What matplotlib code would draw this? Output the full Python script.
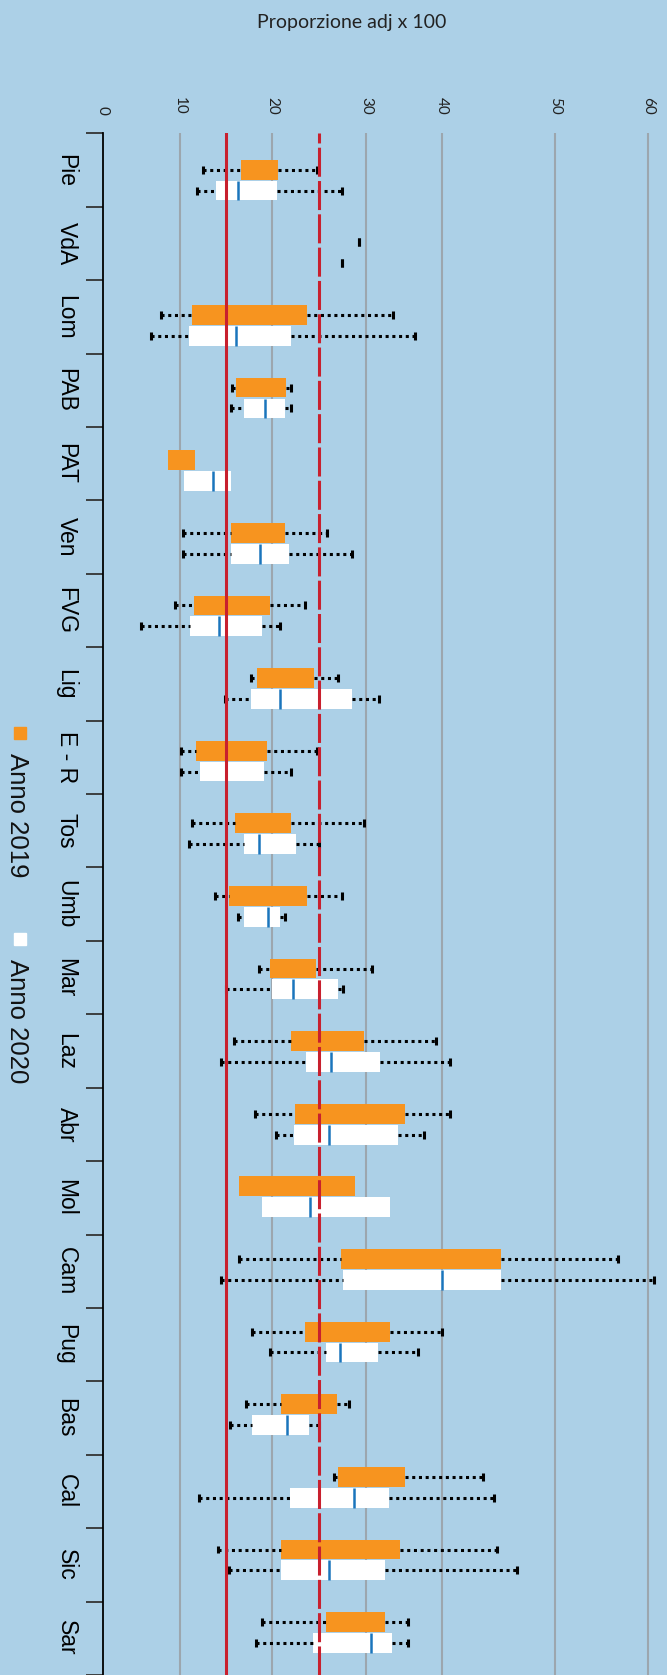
import matplotlib
matplotlib.use("Agg")
import matplotlib.pyplot as plt
from matplotlib.lines import Line2D
import numpy as np

nan = np.nan

# Regions (top to bottom)
regions = ["Pie", "VdA", "Lom", "PAB", "PAT", "Ven", "FVG", "Lig", "E - R", "Tos", "Umb",
           "Mar", "Laz", "Abr", "Mol", "Cam", "Pug", "Bas", "Cal", "Sic", "Sar"]

# Anno 2019: whisker low, q1, q3, whisker high (no median drawn)
lo_2019 = [12.5, 29.3, 7.5, 15.7, nan, 10.3, 9.4, 17.7, 10.1, 11.3, 13.8,
           18.6, 15.9, 18.1, nan, 16.4, 17.8, 17.2, 26.6, 14.1, 18.9]
q1_2019 = [16.6, 29.3, 11.3, 16.1, 8.45, 15.5, 11.5, 18.4, 11.7, 16.0, 15.3,
           19.8, 22.0, 22.4, 16.4, 27.3, 23.5, 20.9, 27.0, 21.0, 25.7]
q3_2019 = [20.6, 29.3, 23.7, 21.5, 11.6, 21.4, 19.8, 24.5, 19.5, 22.0, 23.7,
           24.7, 29.8, 35.1, 28.8, 45.2, 33.2, 26.9, 35.1, 34.5, 32.5]
hi_2019 = [24.8, 29.3, 33.6, 22.0, nan, 25.8, 23.5, 27.0, 24.8, 29.8, 27.4,
           30.8, 39.2, 40.7, nan, 56.7, 40.0, 28.2, 43.6, 44.9, 35.6]

# Anno 2020: whisker low, q1, median, q3, whisker high
lo_2020 = [11.9, 27.4, 6.3, 15.5, nan, 10.3, 5.0, 14.9, 10.1, 11.0, 16.3,
           15.0, 14.5, 20.4, nan, 14.4, 19.8, 15.4, 12.1, 15.3, 18.2]
q1_2020 = [13.9, 27.4, 11.0, 16.9, 10.4, 15.5, 11.1, 17.7, 12.2, 16.9, 16.9,
           20.0, 23.6, 22.3, 18.9, 27.6, 25.7, 17.8, 21.9, 21.0, 24.4]
med_2020 = [16.3, nan, 16.1, 19.2, 13.6, 18.7, 14.2, 20.8, 15.0, 18.6, 19.6,
            22.2, 26.3, 26.1, 24.0, 40.0, 27.2, 21.6, 28.7, 26.1, 30.6]
q3_2020 = [20.5, 27.4, 22.0, 21.4, 15.5, 21.8, 18.9, 28.5, 19.1, 22.5, 20.8,
           27.0, 31.9, 34.2, 33.2, 45.2, 31.6, 23.9, 33.1, 32.5, 33.5]
hi_2020 = [27.4, 27.4, 36.5, 22.0, nan, 28.5, 20.8, 31.7, 22.0, 25.0, 21.4,
           27.6, 40.7, 37.7, nan, 60.6, 36.9, 25.0, 44.6, 46.6, 35.6]

# reference lines
ref_solid = 15
ref_dashed = 25

tick_vals = [0, 10, 20, 30, 40, 50, 60]

# the value axis of the original is not evenly spaced: pixel position of each grid value
grid_vals = [-10, 0, 10, 20, 30, 40, 50, 60, 70]
grid_px = [25.0, 102.5, 180.0, 272.1, 366.0, 441.7, 555.1, 648.3, 741.5]


def forward(v):
    return np.interp(v, grid_vals, grid_px)


def inverse(p):
    return np.interp(p, grid_px, grid_vals)


W, H = 667, 1675
BG = "#acd0e7"
ORANGE = "#f7941f"
BLUE = "#1a75bc"
RED = "#c8202e"
GRID = "#9ca6ae"

fig = plt.figure(figsize=(W / 100, H / 100), dpi=100, facecolor=BG)
ax_left, ax_right, ax_top = 102.5, 662.0, 133.3
ax = fig.add_axes([ax_left / W, 0, (ax_right - ax_left) / W, (H - ax_top) / H])
ax.set_facecolor(BG)
ax.set_xscale("function", functions=(forward, inverse))
ax.set_xlim(0, inverse(ax_right))

row_px = 73.2      # box spacing in pixels
tick_px = 74.0     # category tick spacing in pixels
first_box = 170.0
y_top = (ax_top - first_box) / row_px
y_bot = (H - first_box) / row_px
ax.set_ylim(y_bot, y_top)

y19 = np.arange(len(regions))
y20 = y19 + 0.287
box_h = 0.273
cap_h = 0.055

for v in tick_vals[1:]:
    ax.axvline(v, color=GRID, lw=1.5, zorder=1)

dots = (0, (1, 1.2))
for y, lo, q1, q3, hi, col in [(y19, lo_2019, q1_2019, q3_2019, hi_2019, ORANGE),
                               (y20, lo_2020, q1_2020, q3_2020, hi_2020, "white")]:
    lo, q1, q3, hi = map(np.array, (lo, q1, q3, hi))
    ax.barh(y, q3 - q1, left=q1, height=box_h, color=col, lw=0, zorder=2)
    ax.hlines(y, lo, q1, colors="black", linestyles=[dots], lw=2.2, zorder=2.5)
    ax.hlines(y, q3, hi, colors="black", linestyles=[dots], lw=2.2, zorder=2.5)
    ax.vlines(lo, y - cap_h, y + cap_h, colors="black", lw=2.2, zorder=2.6)
    ax.vlines(hi, y - cap_h, y + cap_h, colors="black", lw=2.2, zorder=2.6)

ax.vlines(med_2020, y20 - box_h / 2, y20 + box_h / 2, colors=BLUE, lw=1.8, zorder=3)

ax.axvline(ref_solid, color=RED, lw=2.2, zorder=4)
ax.axvline(ref_dashed, color=RED, lw=2.2, dashes=(9.5, 1.4), zorder=4)

# value ticks on top, rotated like the rest of the chart
ax.xaxis.tick_top()
ax.set_xticks(tick_vals)
ax.set_xticklabels([str(v) for v in tick_vals])
ax.xaxis.set_minor_locator(matplotlib.ticker.NullLocator())
ax.tick_params(axis="x", length=0, pad=13.5, labelsize=11, labelrotation=-90, colors="#222222")
for lab in ax.get_xticklabels():
    lab.set_fontfamily("Lato")

# category boundaries as major ticks, labels on minor ticks
bounds = y_top + np.arange(len(regions) + 1) * tick_px / row_px
ax.set_yticks(bounds)
ax.set_yticklabels([])
ax.set_yticks((bounds[:-1] + bounds[1:]) / 2, minor=True)
ax.set_yticklabels(regions, minor=True)
ax.tick_params(axis="y", which="major", length=12.2, width=1.3, color="#333333")
ax.tick_params(axis="y", which="minor", length=0, pad=18, labelsize=16.5)
for lab in ax.get_yticklabels(minor=True):
    lab.set_rotation(-90)
    lab.set_va("center")
    lab.set_fontfamily("Liberation Sans")

for s in ["top", "right", "bottom"]:
    ax.spines[s].set_visible(False)
ax.spines["left"].set_linewidth(1.3)

fig.text(352 / W, 1 - 22.7 / H, "Proporzione adj x 100", ha="center", va="center",
         fontsize=14, family="Lato", color="#222222")

# legend, drawn rotated
for (cy, ty, col, txt) in [(733, 753, ORANGE, "Anno 2019"), (939, 959, "white", "Anno 2020")]:
    fig.add_artist(Line2D([20 / W], [1 - cy / H], marker="s", markersize=8.5,
                          color=col, lw=0, transform=fig.transFigure))
    fig.text(16.5 / W, 1 - ty / H, txt, rotation=-90, ha="center", va="top",
             fontsize=18.5, family="Liberation Sans", color="#111111")

fig.savefig("out.png", dpi=100, facecolor=BG)
